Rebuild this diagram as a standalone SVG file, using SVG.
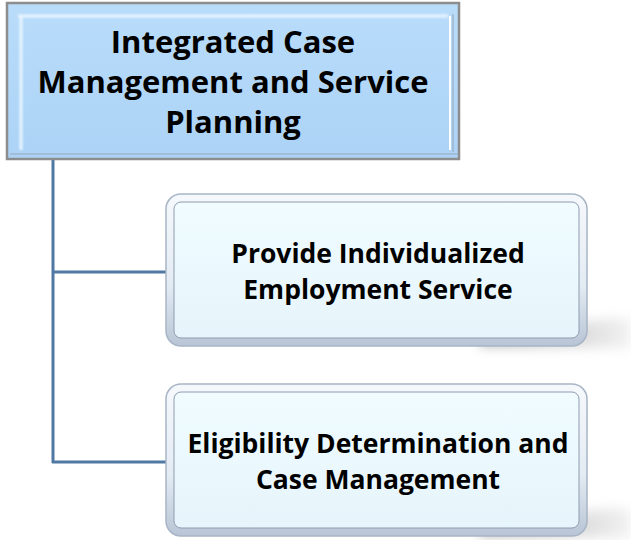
<svg xmlns="http://www.w3.org/2000/svg" width="631" height="540" viewBox="0 0 631 540">
<defs>
<linearGradient id="topFill" x1="0" y1="0" x2="0" y2="1">
<stop offset="0" stop-color="#b9dcfa"/>
<stop offset="1" stop-color="#acd3f6"/>
</linearGradient>
<linearGradient id="frame" x1="0" y1="0" x2="0" y2="1">
<stop offset="0" stop-color="#f6f9fc"/>
<stop offset="0.6" stop-color="#e3ebf3"/>
<stop offset="1" stop-color="#b8c5d5"/>
</linearGradient>
<linearGradient id="inner" x1="0" y1="0" x2="0" y2="1">
<stop offset="0" stop-color="#f0fcff"/>
<stop offset="1" stop-color="#e6f4fb"/>
</linearGradient>
<linearGradient id="shad" x1="0" y1="0" x2="1" y2="0">
<stop offset="0" stop-color="#000" stop-opacity="0.3"/>
<stop offset="1" stop-color="#000" stop-opacity="0.05"/>
</linearGradient>
<filter id="blur" x="-20%" y="-80%" width="140%" height="260%">
<feGaussianBlur stdDeviation="6"/>
</filter>
<filter id="blur2" x="-20%" y="-20%" width="140%" height="140%">
<feGaussianBlur stdDeviation="1"/>
</filter>
</defs>
<style>
.t{font-family:"Open Sans","Liberation Sans",sans-serif;font-weight:bold;fill:#000;text-anchor:middle}
.top{font-size:31px}
.sub{font-size:26.5px}
.conn{stroke:#4f79a3;stroke-width:3;fill:none}
.outer{fill:url(#frame);stroke:#a8b5c6;stroke-width:1.5}
.innerbox{fill:url(#inner);stroke:#8e9cb0;stroke-width:1}
.shadow{fill:url(#shad)}
</style>

<g id="connectors">
<path class="conn" d="M53 158 V463 M52 272 H168 M52 462 H168"/>
</g>

<g id="node-top">
<rect x="7" y="3" width="452" height="156" fill="url(#topFill)" stroke="#8d8d8d" stroke-width="2.5"/>
<path d="M18 16 H448 M21 16 V150" stroke="#e9f5ff" stroke-width="3" fill="none" filter="url(#blur2)"/>
<path d="M450 16 V150" stroke="#ffffff" stroke-width="2" fill="none"/>
<path d="M453 14 V152 M10 154 H458" stroke="#9fb7cc" stroke-width="1.5" fill="none"/>
<text class="t top" x="233" y="53">Integrated Case</text>
<text class="t top" x="233" y="93">Management and Service</text>
<text class="t top" x="233" y="133">Planning</text>
</g>

<g id="node-1">
<path class="shadow" d="M480 334 L615 318 L631 320 L631 348 L480 346 Z" filter="url(#blur)"/>
<rect class="outer" x="166" y="194" width="421" height="152" rx="15"/>
<rect class="innerbox" x="174" y="202" width="405" height="136" rx="7"/>
<text class="t sub" x="378" y="263">Provide Individualized</text>
<text class="t sub" x="378" y="299">Employment Service</text>
</g>

<g id="node-2">
<path class="shadow" d="M480 524 L615 508 L631 510 L631 538 L480 536 Z" filter="url(#blur)"/>
<rect class="outer" x="166" y="384" width="421" height="152" rx="15"/>
<rect class="innerbox" x="174" y="392" width="405" height="136" rx="7"/>
<text class="t sub" x="378" y="453">Eligibility Determination and</text>
<text class="t sub" x="378" y="489">Case Management</text>
</g>
</svg>
